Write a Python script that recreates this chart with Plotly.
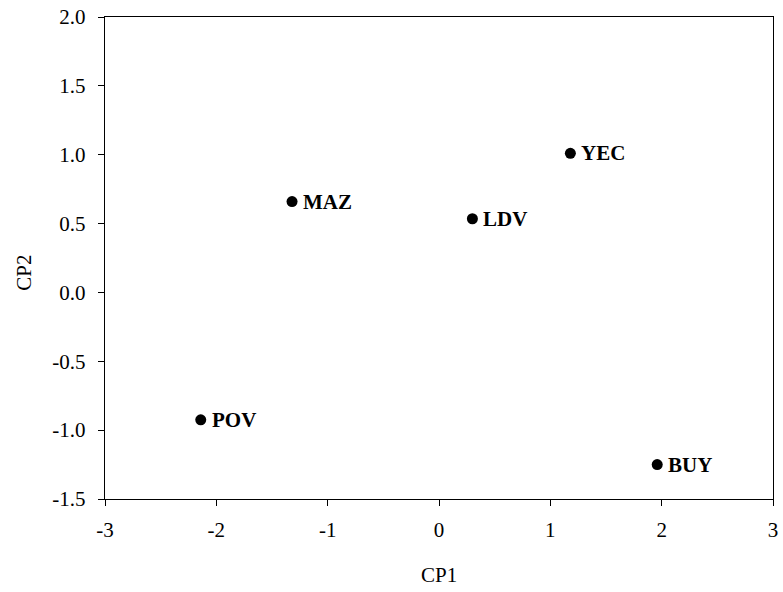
import plotly.graph_objects as go

labels = ["MAZ", "LDV", "YEC", "POV", "BUY"]
cp1 = [-1.32, 0.30, 1.18, -2.14, 1.96]
cp2 = [0.66, 0.535, 1.01, -0.925, -1.25]

x_ticks = [-3, -2, -1, 0, 1, 2, 3]
x_ticktext = ["-3", "-2", "-1", "0", "1", "2", "3"]
y_ticks = [-1.5, -1.0, -0.5, 0.0, 0.5, 1.0, 1.5, 2.0]
y_ticktext = ["-1.5", "-1.0", "-0.5", "0.0", "0.5", "1.0", "1.5", "2.0"]

font = "Liberation Serif, Times New Roman, serif"
fs = 21

fig = go.Figure()
fig.add_trace(go.Scatter(
    x=cp1, y=cp2, mode="markers",
    marker=dict(color="black", size=11),
    hoverinfo="skip", showlegend=False,
))
for lab, xv, yv in zip(labels, cp1, cp2):
    fig.add_annotation(x=xv, y=yv, text="<b>%s</b>" % lab, showarrow=False,
                       xanchor="left", yanchor="middle", xshift=9,
                       font=dict(family=font, size=fs, color="black"))

axis_common = dict(showline=True, linecolor="black", linewidth=1.4, mirror=True,
                   ticks="outside", ticklen=6, tickcolor="black", tickwidth=1.4,
                   showgrid=False, zeroline=False, automargin=False,
                   tickfont=dict(family=font, size=fs, color="black"))

fig.update_xaxes(range=[-3, 3], tickvals=x_ticks, ticktext=x_ticktext,
                 ticklabelstandoff=6, **axis_common)
fig.update_yaxes(range=[-1.5, 2.0], tickvals=y_ticks, ticktext=y_ticktext,
                 ticklabelstandoff=8, **axis_common)

fig.add_annotation(text="CP1", xref="paper", yref="paper", x=0.5, y=-0.158,
                   showarrow=False, xanchor="center", yanchor="middle",
                   font=dict(family=font, size=fs, color="black"))
fig.add_annotation(text="CP2", xref="paper", yref="paper", x=-0.121, y=0.47,
                   showarrow=False, xanchor="center", yanchor="middle", textangle=-90,
                   font=dict(family=font, size=fs, color="black"))

fig.update_layout(width=783, height=592, margin=dict(l=105, r=10, t=17, b=93, autoexpand=False),
                  plot_bgcolor="white", paper_bgcolor="white")

fig.write_html("out.html", config={"displayModeBar": False},
               post_script="document.body.style.margin='0';document.body.style.overflow='hidden';")
